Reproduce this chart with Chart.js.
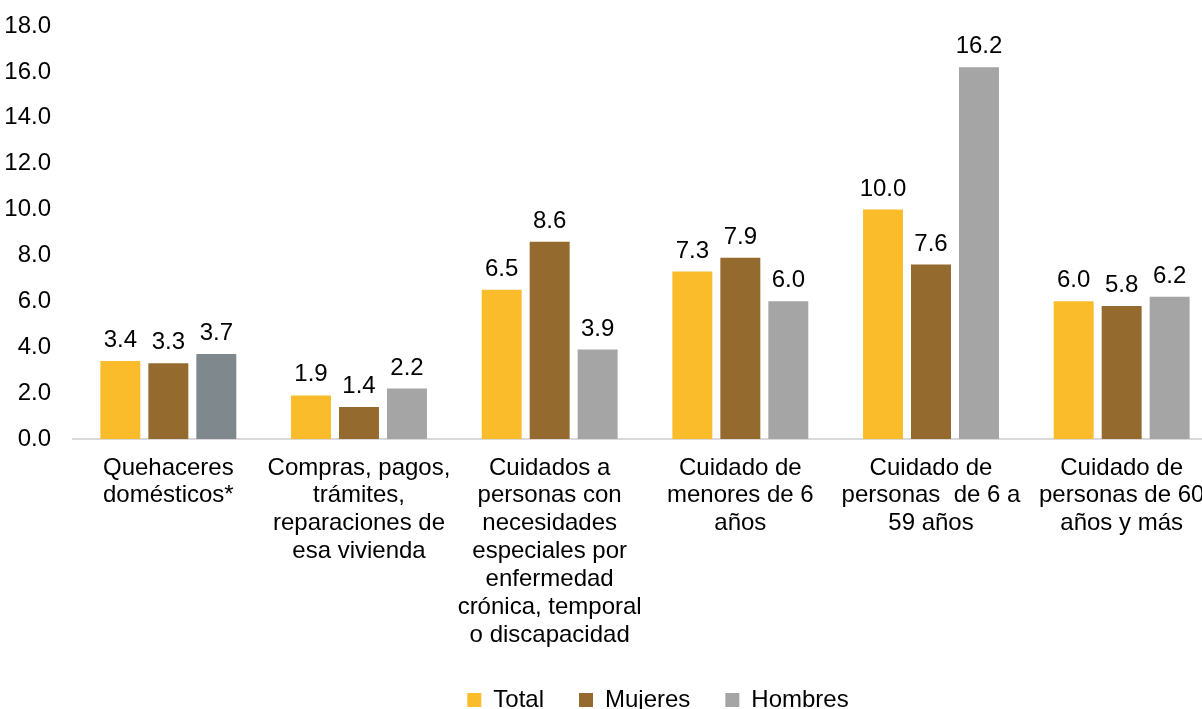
<!DOCTYPE html>
<html>
<head>
<meta charset="utf-8">
<script src="https://cdn.jsdelivr.net/npm/chart.js@4.4.1/dist/chart.umd.min.js"></script>
<style>
  html, body { margin: 0; padding: 0; background: #fff; overflow: hidden; }
  #wrap { width: 1202px; height: 709px; overflow: hidden; }
</style>
</head>
<body>
<div id="wrap"><canvas id="chart" width="1316" height="722"></canvas></div>
<script>
// categories (multi-line labels as in the original)
const categorias = [
  ['Quehaceres', 'domésticos*'],
  ['Compras, pagos,', 'trámites,', 'reparaciones de', 'esa vivienda'],
  ['Cuidados a', 'personas con', 'necesidades', 'especiales por', 'enfermedad', 'crónica, temporal', 'o discapacidad'],
  ['Cuidado de', 'menores de 6', 'años'],
  ['Cuidado de', 'personas  de 6 a', '59 años'],
  ['Cuidado de', 'personas de 60', 'años y más']
];
const total   = [3.4, 1.9, 6.5, 7.3, 10.0, 6.0];
const mujeres = [3.3, 1.4, 8.6, 7.9, 7.6, 5.8];
const hombres = [3.7, 2.2, 3.9, 6.0, 16.2, 6.2];
const yTicks  = [0, 2, 4, 6, 8, 10, 12, 14, 16, 18];

const FONT = "'Liberation Sans', Arial, sans-serif";
const FS = 24;
const PLOT_TOP = 26;
const PLOT_BOTTOM = 439;
const GRIS = '#A5A5A5';

// value labels above each bar
const valueLabels = {
  id: 'valueLabels',
  afterDatasetsDraw(chart) {
    const ctx = chart.ctx;
    ctx.save();
    ctx.font = FS + 'px ' + FONT;
    ctx.fillStyle = '#000';
    ctx.textAlign = 'center';
    ctx.textBaseline = 'alphabetic';
    chart.data.datasets.forEach((ds, i) => {
      chart.getDatasetMeta(i).data.forEach((bar, j) => {
        ctx.fillText(ds.data[j].toFixed(1), bar.x, bar.y - 14);
      });
    });
    ctx.restore();
  }
};

new Chart(document.getElementById('chart'), {
  type: 'bar',
  data: {
    labels: categorias,
    datasets: [
      { label: 'Total', data: total, backgroundColor: '#FBBC2B' },
      { label: 'Mujeres', data: mujeres, backgroundColor: '#956A2E' },
      {
        label: 'Hombres', data: hombres,
        // first bar is a darker grey in the original
        backgroundColor: (c) => c.dataIndex === 0 ? '#7F888C' : GRIS
      }
    ]
  },
  options: {
    responsive: false,
    animation: false,
    devicePixelRatio: 1,
    categoryPercentage: 0.755,
    barPercentage: 0.833,
    layout: { padding: { left: 0, right: 0, top: PLOT_TOP, bottom: 0 } },
    plugins: {
      legend: {
        position: 'bottom',
        labels: {
          boxWidth: 14, boxHeight: 14, padding: 35,
          color: '#000',
          font: { family: FONT, size: FS },
          generateLabels: (chart) => {
            const items = Chart.defaults.plugins.legend.labels.generateLabels(chart);
            items.forEach(it => {
              const ds = chart.data.datasets[it.datasetIndex];
              if (ds.label === 'Hombres') { it.fillStyle = GRIS; it.strokeStyle = GRIS; }
            });
            return items;
          }
        }
      },
      tooltip: { enabled: false }
    },
    scales: {
      y: {
        min: 0, max: 18,
        afterBuildTicks: (s) => { s.ticks = yTicks.map(v => ({ value: v })); },
        afterFit: (s) => { s.width = 73; s.paddingTop = 0; s.paddingBottom = 0; },
        grid: { display: false, drawTicks: false },
        border: { display: false },
        ticks: {
          padding: 22,
          color: '#000',
          font: { family: FONT, size: FS },
          callback: (v) => Number(v).toFixed(1)
        }
      },
      // empty right axis, only reserves the space the plot leaves on the right
      yR: {
        position: 'right',
        min: 0, max: 18,
        afterFit: (s) => { s.width = 99; s.paddingTop = 0; s.paddingBottom = 0; },
        grid: { display: false, drawTicks: false },
        border: { display: false },
        ticks: { display: false }
      },
      x: {
        afterFit: (s) => {
          const lg = s.chart.legend ? s.chart.legend.height : 0;
          s.height = s.chart.height - PLOT_BOTTOM - lg;
          s.paddingLeft = 0; s.paddingRight = 0;
        },
        grid: { display: false, drawTicks: false },
        border: { display: true, color: '#D9D9D9', width: 2 },
        ticks: {
          padding: 15,
          maxRotation: 0,
          autoSkip: false,
          color: '#000',
          font: { family: FONT, size: FS, lineHeight: 1.16 }
        }
      }
    }
  },
  plugins: [valueLabels]
});
</script>
</body>
</html>
